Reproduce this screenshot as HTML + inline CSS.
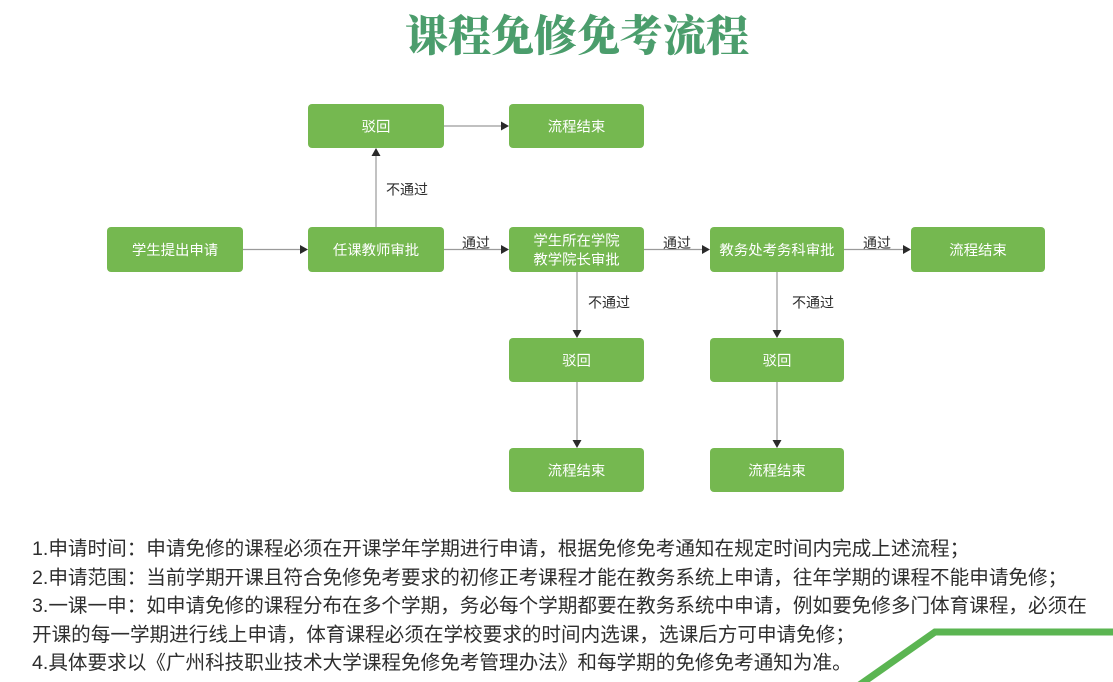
<!DOCTYPE html>
<html>
<head>
<meta charset="utf-8">
<style>
  html,body{margin:0;padding:0;background:#ffffff;}
  body{width:1113px;height:682px;position:relative;overflow:hidden;}
  svg{position:absolute;left:0;top:0;}
  .notes{position:absolute;left:32px;top:535px;width:1081px;
    font-family:"Liberation Sans","Noto Sans CJK SC",sans-serif;
    font-size:19.6px;line-height:28.5px;color:#2e2e2e;white-space:nowrap;}
  .notes div{height:28.5px;}
</style>
</head>
<body>
<svg width="1113" height="682" viewBox="0 0 1113 682" xmlns="http://www.w3.org/2000/svg">
  <!-- title -->
  <text x="577" y="51" text-anchor="middle" font-family="'Noto Serif CJK SC','Liberation Serif',serif" font-weight="900" font-size="43" fill="#4b9d6c">课程免修免考流程</text>

  <!-- connectors -->
  <g stroke="#9a9a9a" stroke-width="1.2" fill="none">
    <line x1="243" y1="249.5" x2="301" y2="249.5"/>
    <line x1="444" y1="249.5" x2="502" y2="249.5"/>
    <line x1="644" y1="249.5" x2="703" y2="249.5"/>
    <line x1="844" y1="249.5" x2="904" y2="249.5"/>
    <line x1="444" y1="126" x2="502" y2="126"/>
    <line x1="376" y1="227" x2="376" y2="155"/>
    <line x1="577" y1="272" x2="577" y2="331"/>
    <line x1="577" y1="382" x2="577" y2="441"/>
    <line x1="777" y1="272" x2="777" y2="331"/>
    <line x1="777" y1="382" x2="777" y2="441"/>
  </g>
  <!-- arrowheads -->
  <g fill="#2a2a2a">
    <polygon points="308,249.5 300,245 300,254"/>
    <polygon points="509,249.5 501,245 501,254"/>
    <polygon points="710,249.5 702,245 702,254"/>
    <polygon points="911,249.5 903,245 903,254"/>
    <polygon points="509,126 501,121.5 501,130.5"/>
    <polygon points="376,148 371.5,156 380.5,156"/>
    <polygon points="577,338 572.5,330 581.5,330"/>
    <polygon points="577,448 572.5,440 581.5,440"/>
    <polygon points="777,338 772.5,330 781.5,330"/>
    <polygon points="777,448 772.5,440 781.5,440"/>
  </g>

  <!-- boxes -->
  <g fill="#75b850">
    <rect x="308" y="104" width="136" height="44" rx="4"/>
    <rect x="509" y="104" width="135" height="44" rx="4"/>
    <rect x="107" y="227" width="136" height="45" rx="4"/>
    <rect x="308" y="227" width="136" height="45" rx="4"/>
    <rect x="509" y="227" width="135" height="45" rx="4"/>
    <rect x="710" y="227" width="134" height="45" rx="4"/>
    <rect x="911" y="227" width="134" height="45" rx="4"/>
    <rect x="509" y="338" width="135" height="44" rx="4"/>
    <rect x="710" y="338" width="134" height="44" rx="4"/>
    <rect x="509" y="448" width="135" height="44" rx="4"/>
    <rect x="710" y="448" width="134" height="44" rx="4"/>
  </g>

  <!-- box labels -->
  <g font-family="'Liberation Sans','Noto Sans CJK SC',sans-serif" font-size="14.4" fill="#ffffff" text-anchor="middle">
    <text x="376" y="131.5">驳回</text>
    <text x="576.5" y="131.5">流程结束</text>
    <text x="175" y="255">学生提出申请</text>
    <text x="376" y="255">任课教师审批</text>
    <text x="576.5" y="245.5">学生所在学院</text>
    <text x="576.5" y="264.5">教学院长审批</text>
    <text x="777" y="255">教务处考务科审批</text>
    <text x="978" y="255">流程结束</text>
    <text x="576.5" y="365.5">驳回</text>
    <text x="777" y="365.5">驳回</text>
    <text x="576.5" y="475.5">流程结束</text>
    <text x="777" y="475.5">流程结束</text>
  </g>

  <!-- connector labels -->
  <g font-family="'Liberation Sans','Noto Sans CJK SC',sans-serif" font-size="14" fill="#2e2e2e">
    <text x="386" y="194.3">不通过</text>
    <text x="462" y="248">通过</text>
    <text x="663" y="248">通过</text>
    <text x="863" y="248">通过</text>
    <text x="588" y="307.3">不通过</text>
    <text x="792" y="307.3">不通过</text>
  </g>

  <!-- decorative green line -->
  <polyline points="848,693 935,632 1120,632" fill="none" stroke="#5bb552" stroke-width="7" stroke-linejoin="miter"/>
</svg>

<div class="notes">
  <div>1.申请时间：申请免修的课程必须在开课学年学期进行申请，根据免修免考通知在规定时间内完成上述流程；</div>
  <div>2.申请范围：当前学期开课且符合免修免考要求的初修正考课程才能在教务系统上申请，往年学期的课程不能申请免修；</div>
  <div>3.一课一申：如申请免修的课程分布在多个学期，务必每个学期都要在教务系统中申请，例如要免修多门体育课程，必须在</div>
  <div>开课的每一学期进行线上申请，体育课程必须在学校要求的时间内选课，选课后方可申请免修；</div>
  <div>4.具体要求以《广州科技职业技术大学课程免修免考管理办法》和每学期的免修免考通知为准。</div>
</div>
</body>
</html>
